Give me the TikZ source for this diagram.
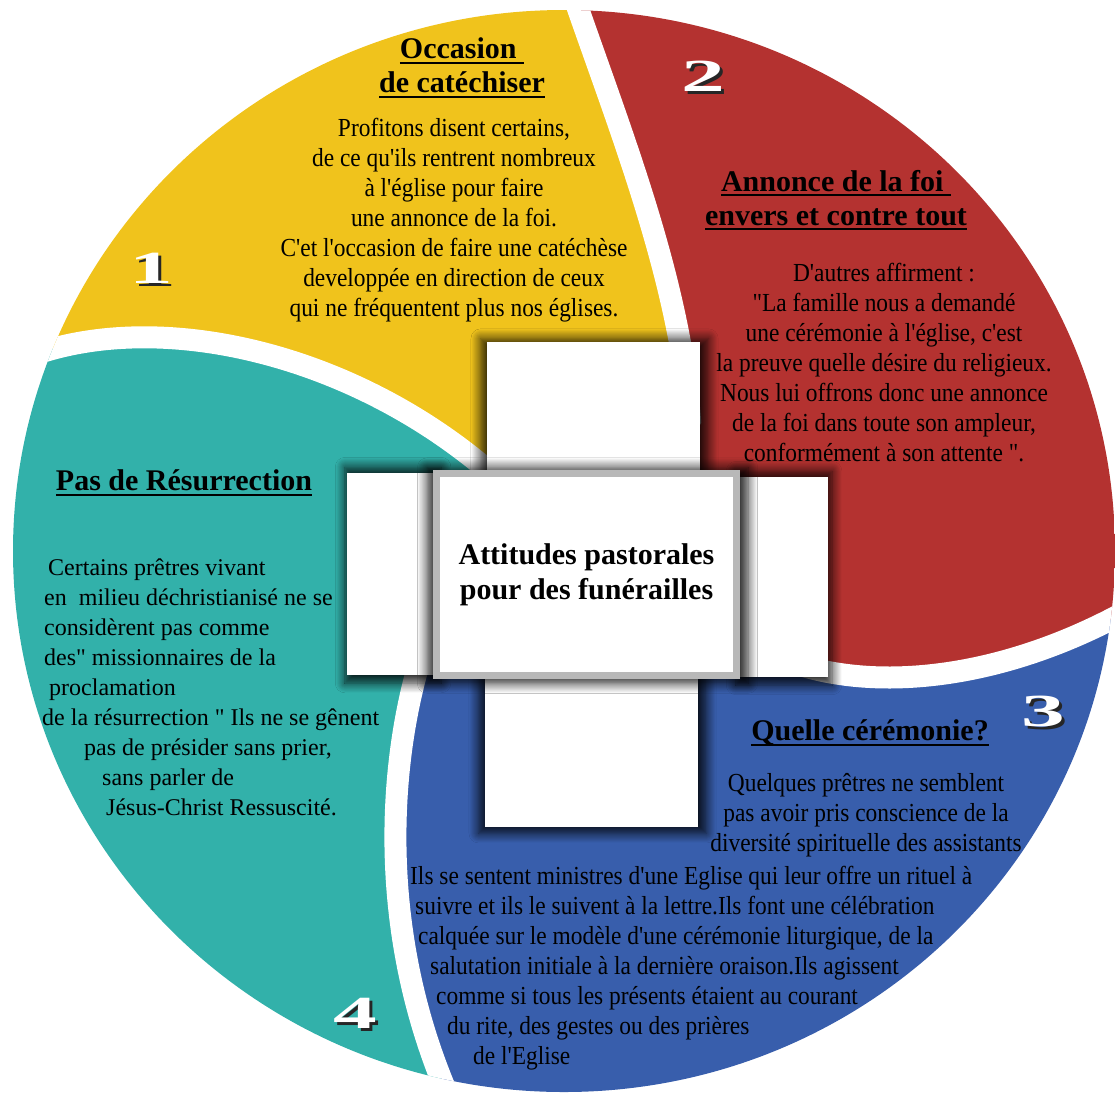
\documentclass[tikz,border=0pt]{standalone}
\usepackage{fontspec}
\setmainfont{Liberation Serif}
\newfontfamily\bodyfont{Liberation Serif}[FakeStretch=0.9]
\newfontfamily\sidefont{Liberation Serif}
\newfontfamily\numfont{Liberation Serif}[FakeStretch=1.9]
\usetikzlibrary{shadows.blur}

\definecolor{petalyellow}{RGB}{240,195,28}
\definecolor{petalred}{RGB}{180,50,48}
\definecolor{petalblue}{RGB}{56,94,172}
\definecolor{petalteal}{RGB}{50,177,170}

% underlined heading line
\newcommand{\headul}[1]{\setbox0\hbox{#1}\leavevmode\rlap{\rule[-5pt]{\wd0}{2.4pt}}\box0}
% white digit with a dark offset copy behind
\newcommand{\bignum}[1]{\rlap{\hspace*{3pt}\raisebox{-3pt}{\textcolor{black!85}{#1}}}\textcolor{white}{#1}}

\begin{document}
\begin{tikzpicture}[
  x=1pt, y=-1pt,
  sep/.style={white, line width=22pt},
  piece/.style={rectangle, fill=white, inner sep=0pt,
    blur shadow={shadow xshift=1pt, shadow yshift=-1pt, shadow scale=1.07,
      shadow blur radius=9pt, shadow blur steps=10, shadow opacity=85}},
  hub/.style={piece, draw=black!28, line width=7pt, align=center,
    font=\fontsize{30}{35}\selectfont\bfseries},
  head/.style={font=\fontsize{30}{34}\selectfont\bfseries, align=center, inner sep=0pt},
  body/.style={font=\bodyfont\fontsize{26}{30}\selectfont, align=center, inner sep=0pt},
  side/.style={font=\sidefont\fontsize{24}{30}\selectfont, align=left, inner sep=0pt},
  num/.style={font=\numfont\bfseries\fontsize{46}{46}\selectfont, inner sep=0pt}
]
\useasboundingbox (0,0) rectangle (1115,1095);

% Petals
\coordinate (mid) at (590,575);
\begin{scope}
  \clip (564,551) ellipse [x radius=551pt, y radius=541pt];
  \fill[petalyellow] (mid) -- (520,500) .. controls (380,360) and (170,305) .. (30,356)
    -- (-30,356) -- (-30,-30) -- (572,-30) -- (575,0)
    .. controls (620,130) and (680,280) .. (690,420) -- cycle;
  \fill[petalred] (mid) -- (690,420) .. controls (680,280) and (620,130) .. (575,0)
    -- (572,-30) -- (1150,-30) -- (1150,605) -- (1125,612)
    .. controls (1000,680) and (880,690) .. (800,665) -- cycle;
  \fill[petalblue] (mid) -- (800,665) .. controls (880,690) and (1000,680) .. (1125,612)
    -- (1150,605) -- (1150,1130) -- (455,1130) -- (450,1100)
    .. controls (375,930) and (390,760) .. (420,660) -- cycle;
  \fill[petalteal] (mid) -- (420,660) .. controls (390,760) and (375,930) .. (450,1100)
    -- (455,1130) -- (-30,1130) -- (-30,356) -- (30,356)
    .. controls (170,305) and (380,360) .. (520,500) -- cycle;
  % white gaps
  \draw[sep] (-30,360) -- (30,356) .. controls (170,305) and (380,360) .. (520,500) -- (mid);
  \draw[sep] (572,-30) -- (575,0) .. controls (620,130) and (680,280) .. (690,420) -- (mid);
  \draw[sep] (1150,605) -- (1125,612) .. controls (1000,680) and (880,690) .. (800,665) -- (mid);
  \draw[sep] (455,1130) -- (450,1100) .. controls (375,930) and (390,760) .. (420,660) -- (mid);
\end{scope}

% Cross
\node[piece, minimum width=213pt, minimum height=130pt] (topbox) at (593.5,407) {};
\node[piece, minimum width=90pt, minimum height=202pt] (leftbox) at (392,574) {};
\node[piece, minimum width=90pt, minimum height=200pt] (rightbox) at (783,577) {};
\node[piece, minimum width=213pt, minimum height=150pt] (bottombox) at (591.5,752) {};
\node[hub, minimum width=300pt, minimum height=202pt] (hub) at (586.5,574.5)
  {Attitudes pastorales\\pour des funérailles};

% Numbers
\node[num] (one) at (151,270) {\bignum{1}};
\node[num] (two) at (703,78) {\bignum{2}};
\node[num] (three) at (1043,713) {\bignum{3}};
\node[num] (four) at (355,1015) {\bignum{4}};

% Yellow
\node[head] (yhead) at (462,68) {\headul{Occasion\ }\\\headul{de catéchiser}};
\node[body] (ybody) at (454,220) {Profitons disent certains,\\
de ce qu'ils rentrent nombreux\\
à l'église pour faire\\
une annonce de la foi.\\
C'et l'occasion de faire une catéchèse\\
developpée en direction de ceux\\
qui ne fréquentent plus nos églises.};

% Red
\node[head] (rhead) at (836,200) {\headul{Annonce de la foi\ }\\\headul{envers et contre tout}};
\node[body] (rbody) at (884,363) {D'autres affirment :\\
"La famille nous a demandé\\
une cérémonie à l'église, c'est\\
la preuve quelle désire du religieux.\\
Nous lui offrons donc une annonce\\
de la foi dans toute son ampleur,\\
conformément à son attente ".};

% Blue
\node[head] (bhead) at (870,733) {\headul{Quelle cérémonie?}};
\node[body] (bbody) at (866,815) {Quelques prêtres ne semblent\\
pas avoir pris conscience de la\\
diversité spirituelle des assistants};
\node[body, align=left, anchor=west] (bmore) at (410,968) {Ils se sentent ministres d'une Eglise qui leur offre un rituel à\\
\hspace*{5pt}suivre et ils le suivent à la lettre.Ils font une célébration\\
\hspace*{8pt}calquée sur le modèle d'une cérémonie liturgique, de la\\
\hspace*{20pt}salutation initiale à la dernière oraison.Ils agissent\\
\hspace*{26pt}comme si tous les présents étaient au courant\\
\hspace*{37pt}du rite, des gestes ou des prières\\
\hspace*{63pt}de l'Eglise};

% Teal
\node[head] (thead) at (184,483) {\headul{Pas de Résurrection}};
\node[side, anchor=west] (tbody) at (42,687) {\hspace*{6pt}Certains prêtres vivant\\
\hspace*{2pt}en\ \ milieu déchristianisé ne se\\
\hspace*{2pt}considèrent pas comme\\
\hspace*{2pt}des" missionnaires de la\\
\hspace*{7pt}proclamation\\
de la résurrection " Ils ne se gênent\\
\hspace*{42pt}pas de présider sans prier,\\
\hspace*{60pt}sans parler de\\
\hspace*{64pt}Jésus-Christ Ressuscité.};

\end{tikzpicture}
\end{document}
